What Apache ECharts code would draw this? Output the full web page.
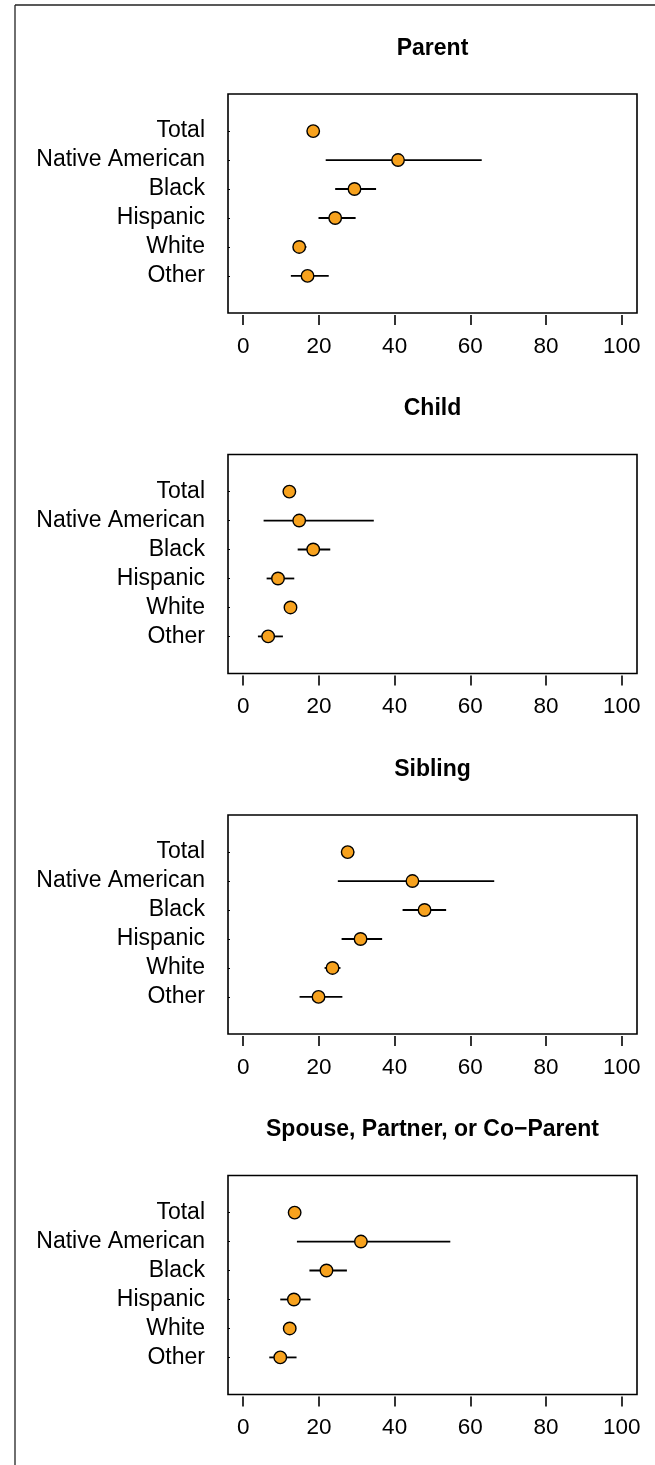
<!DOCTYPE html>
<html>
<head>
<meta charset="utf-8">
<script src="https://cdn.jsdelivr.net/npm/echarts@6/dist/echarts.min.js"></script>
<style>
html,body{margin:0;padding:0;background:#fff;}
#chart{width:655px;height:1465px;}
</style>
</head>
<body>
<div id="chart"></div>
<script>
const categories = ['Total', 'Native American', 'Black', 'Hispanic', 'White', 'Other'];
const panelTitles = ['Parent', 'Child', 'Sibling', 'Spouse, Partner, or Co\u2212Parent'];
const xTicks = [0, 20, 40, 60, 80, 100];

const parentEst = [18.5, 40.9, 29.4, 24.3, 14.8, 17.0];
const parentLo  = [17.3, 21.8, 24.3, 19.9, 13.2, 12.6];
const parentHi  = [19.7, 63.0, 35.1, 29.7, 16.7, 22.6];

const childEst = [12.2, 14.8, 18.5, 9.2, 12.5, 6.6];
const childLo  = [11.2, 5.4, 14.4, 6.2, 11.3, 3.9];
const childHi  = [13.3, 34.5, 23.0, 13.5, 13.7, 10.5];

const siblingEst = [27.6, 44.7, 47.9, 31.0, 23.6, 19.9];
const siblingLo  = [25.9, 25.0, 42.1, 26.0, 21.5, 14.9];
const siblingHi  = [29.3, 66.3, 53.6, 36.7, 25.7, 26.2];

const spouseEst = [13.6, 31.1, 22.0, 13.4, 12.3, 9.8];
const spouseLo  = [12.6, 14.2, 17.5, 9.8, 10.9, 6.9];
const spouseHi  = [14.6, 54.7, 27.4, 17.8, 13.8, 14.1];

const panelData = [
  [parentEst, parentLo, parentHi],
  [childEst, childLo, childHi],
  [siblingEst, siblingLo, siblingHi],
  [spouseEst, spouseLo, spouseHi]
];

const FONT = '"Liberation Sans", Arial, sans-serif';
const nCat = categories.length;
const rowValues = categories.map((c, i) => nCat - i);
const labelFor = v => categories[nCat - v];

const gridTop0 = 94, pitch = 360.5, gridH = 219, gridLeft = 228, gridW = 409;

const grids = [], xAxes = [], yAxes = [], series = [], graphics = [];
panelTitles.forEach((t, p) => {
  const top = gridTop0 + pitch * p;
  grids.push({left: gridLeft, top: top, width: gridW, height: gridH, show: true,
    borderColor: '#000', borderWidth: 1.6, backgroundColor: 'transparent'});
  xAxes.push({
    gridIndex: p, type: 'value', min: -4, max: 104, offset: 2, position: 'bottom',
    axisLine: {show: false, onZero: false},
    axisTick: {show: true, customValues: xTicks, length: 10, lineStyle: {color: '#000', width: 1.6}},
    axisLabel: {show: true, customValues: xTicks, margin: 20, color: '#000', fontSize: 22.5, fontFamily: FONT},
    splitLine: {show: false}
  });
  yAxes.push({
    gridIndex: p, type: 'value', min: -0.28, max: nCat + 1.28, position: 'left',
    axisLine: {show: false, onZero: false},
    axisTick: {show: true, inside: true, length: 2, customValues: rowValues, lineStyle: {color: '#000', width: 1}},
    axisLabel: {show: true, customValues: rowValues, margin: 23, color: '#000', fontSize: 23, fontFamily: FONT,
      padding: [3, 0, 0, 0], formatter: v => labelFor(v)},
    splitLine: {show: false}
  });
  const [est, lo, hi] = panelData[p];
  series.push({
    type: 'custom', xAxisIndex: p, yAxisIndex: p,
    data: categories.map((c, i) => [lo[i], hi[i], nCat - i]),
    encode: {x: [0, 1], y: 2},
    renderItem: (params, api) => {
      const a = api.coord([api.value(0), api.value(2)]);
      const b = api.coord([api.value(1), api.value(2)]);
      return {type: 'line', shape: {x1: a[0], y1: a[1], x2: b[0], y2: b[1]},
        style: {stroke: '#000', lineWidth: 1.8}};
    },
    z: 2, silent: true
  });
  series.push({
    type: 'scatter', xAxisIndex: p, yAxisIndex: p,
    data: categories.map((c, i) => [est[i], nCat - i]),
    symbol: 'circle', symbolSize: 12.5,
    itemStyle: {color: '#F7A21E', borderColor: '#000', borderWidth: 1.4, opacity: 1},
    z: 3, silent: true
  });
  graphics.push({type: 'text', x: gridLeft + gridW / 2, y: top - 45.5,
    style: {text: t, fontSize: 23, fontWeight: 'bold', fontFamily: FONT, fill: '#000',
      align: 'center', verticalAlign: 'middle'}});
});

graphics.push({type: 'line', shape: {x1: 15, y1: 5, x2: 655, y2: 5}, style: {stroke: '#222', lineWidth: 1.3}});
graphics.push({type: 'line', shape: {x1: 15, y1: 5, x2: 15, y2: 1465}, style: {stroke: '#222', lineWidth: 1.3}});

const chart = echarts.init(document.getElementById('chart'), null, {renderer: 'canvas'});
chart.setOption({
  animation: false,
  backgroundColor: '#fff',
  grid: grids, xAxis: xAxes, yAxis: yAxes, series: series,
  graphic: graphics
});
</script>
</body>
</html>
